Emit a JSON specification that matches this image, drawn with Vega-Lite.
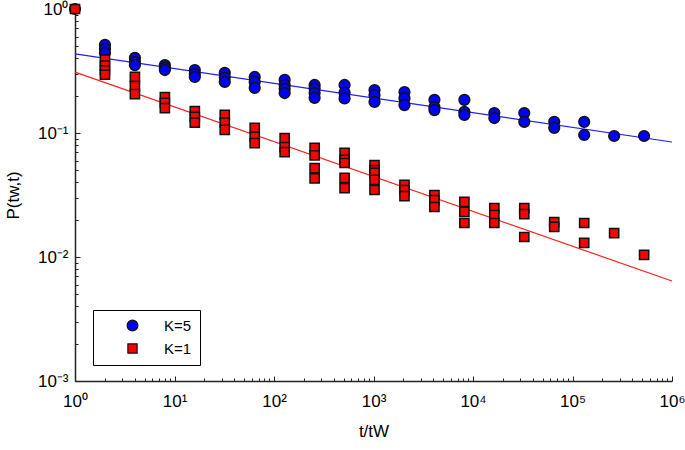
{
  "$schema": "https://vega.github.io/schema/vega-lite/v6.json",
  "width": 597,
  "height": 372,
  "autosize": {"type": "none"},
  "padding": {"left": 75, "top": 9, "right": 13, "bottom": 69},
  "background": "white",
  "view": {"stroke": null},
  "config": {"font": "Liberation Sans"},
  "datasets": {
    "pts": [
      {"x": 1, "y": 1.0, "K": "K=5"},
      {"x": 2, "y": 0.513, "K": "K=5"}, {"x": 2, "y": 0.476, "K": "K=5"}, {"x": 2, "y": 0.442, "K": "K=5"},
      {"x": 4, "y": 0.403, "K": "K=5"}, {"x": 4, "y": 0.374, "K": "K=5"}, {"x": 4, "y": 0.353, "K": "K=5"},
      {"x": 8, "y": 0.353, "K": "K=5"}, {"x": 8, "y": 0.335, "K": "K=5"}, {"x": 8, "y": 0.322, "K": "K=5"},
      {"x": 16, "y": 0.322, "K": "K=5"}, {"x": 16, "y": 0.299, "K": "K=5"}, {"x": 16, "y": 0.283, "K": "K=5"},
      {"x": 32, "y": 0.305, "K": "K=5"}, {"x": 32, "y": 0.28, "K": "K=5"}, {"x": 32, "y": 0.258, "K": "K=5"},
      {"x": 64, "y": 0.283, "K": "K=5"}, {"x": 64, "y": 0.258, "K": "K=5"}, {"x": 64, "y": 0.231, "K": "K=5"},
      {"x": 128, "y": 0.268, "K": "K=5"}, {"x": 128, "y": 0.244, "K": "K=5"}, {"x": 128, "y": 0.227, "K": "K=5"}, {"x": 128, "y": 0.21, "K": "K=5"},
      {"x": 256, "y": 0.244, "K": "K=5"}, {"x": 256, "y": 0.228, "K": "K=5"}, {"x": 256, "y": 0.21, "K": "K=5"}, {"x": 256, "y": 0.192, "K": "K=5"},
      {"x": 512, "y": 0.244, "K": "K=5"}, {"x": 512, "y": 0.212, "K": "K=5"}, {"x": 512, "y": 0.19, "K": "K=5"},
      {"x": 1024, "y": 0.222, "K": "K=5"}, {"x": 1024, "y": 0.202, "K": "K=5"}, {"x": 1024, "y": 0.178, "K": "K=5"},
      {"x": 2048, "y": 0.214, "K": "K=5"}, {"x": 2048, "y": 0.191, "K": "K=5"}, {"x": 2048, "y": 0.168, "K": "K=5"},
      {"x": 4096, "y": 0.185, "K": "K=5"}, {"x": 4096, "y": 0.162, "K": "K=5"}, {"x": 4096, "y": 0.153, "K": "K=5"},
      {"x": 8192, "y": 0.185, "K": "K=5"}, {"x": 8192, "y": 0.148, "K": "K=5"}, {"x": 8192, "y": 0.14, "K": "K=5"},
      {"x": 16384, "y": 0.145, "K": "K=5"}, {"x": 16384, "y": 0.132, "K": "K=5"},
      {"x": 32768, "y": 0.145, "K": "K=5"}, {"x": 32768, "y": 0.123, "K": "K=5"},
      {"x": 65536, "y": 0.123, "K": "K=5"}, {"x": 65536, "y": 0.11, "K": "K=5"},
      {"x": 131072, "y": 0.123, "K": "K=5"}, {"x": 131072, "y": 0.0964, "K": "K=5"},
      {"x": 262144, "y": 0.0946, "K": "K=5"},
      {"x": 524288, "y": 0.0946, "K": "K=5"},
      {"x": 1, "y": 1.0, "K": "K=1"},
      {"x": 2, "y": 0.39, "K": "K=1"}, {"x": 2, "y": 0.35, "K": "K=1"}, {"x": 2, "y": 0.32, "K": "K=1"}, {"x": 2, "y": 0.295, "K": "K=1"},
      {"x": 4, "y": 0.283, "K": "K=1"}, {"x": 4, "y": 0.239, "K": "K=1"}, {"x": 4, "y": 0.206, "K": "K=1"},
      {"x": 8, "y": 0.195, "K": "K=1"}, {"x": 8, "y": 0.175, "K": "K=1"}, {"x": 8, "y": 0.159, "K": "K=1"},
      {"x": 16, "y": 0.15, "K": "K=1"}, {"x": 16, "y": 0.135, "K": "K=1"}, {"x": 16, "y": 0.121, "K": "K=1"},
      {"x": 32, "y": 0.14, "K": "K=1"}, {"x": 32, "y": 0.121, "K": "K=1"}, {"x": 32, "y": 0.106, "K": "K=1"},
      {"x": 64, "y": 0.11, "K": "K=1"}, {"x": 64, "y": 0.093, "K": "K=1"}, {"x": 64, "y": 0.083, "K": "K=1"},
      {"x": 128, "y": 0.091, "K": "K=1"}, {"x": 128, "y": 0.077, "K": "K=1"}, {"x": 128, "y": 0.07, "K": "K=1"},
      {"x": 256, "y": 0.076, "K": "K=1"}, {"x": 256, "y": 0.066, "K": "K=1"}, {"x": 256, "y": 0.052, "K": "K=1"}, {"x": 256, "y": 0.043, "K": "K=1"},
      {"x": 512, "y": 0.069, "K": "K=1"}, {"x": 512, "y": 0.0606, "K": "K=1"}, {"x": 512, "y": 0.0573, "K": "K=1"}, {"x": 512, "y": 0.0434, "K": "K=1"}, {"x": 512, "y": 0.036, "K": "K=1"},
      {"x": 1024, "y": 0.0552, "K": "K=1"}, {"x": 1024, "y": 0.0503, "K": "K=1"}, {"x": 1024, "y": 0.0476, "K": "K=1"}, {"x": 1024, "y": 0.0418, "K": "K=1"}, {"x": 1024, "y": 0.0347, "K": "K=1"},
      {"x": 2048, "y": 0.0381, "K": "K=1"}, {"x": 2048, "y": 0.0347, "K": "K=1"}, {"x": 2048, "y": 0.031, "K": "K=1"},
      {"x": 4096, "y": 0.0316, "K": "K=1"}, {"x": 4096, "y": 0.0288, "K": "K=1"}, {"x": 4096, "y": 0.0253, "K": "K=1"},
      {"x": 8192, "y": 0.0278, "K": "K=1"}, {"x": 8192, "y": 0.0231, "K": "K=1"}, {"x": 8192, "y": 0.0188, "K": "K=1"},
      {"x": 16384, "y": 0.0248, "K": "K=1"}, {"x": 16384, "y": 0.0218, "K": "K=1"}, {"x": 16384, "y": 0.0188, "K": "K=1"},
      {"x": 32768, "y": 0.0248, "K": "K=1"}, {"x": 32768, "y": 0.0222, "K": "K=1"}, {"x": 32768, "y": 0.0145, "K": "K=1"},
      {"x": 65536, "y": 0.0191, "K": "K=1"}, {"x": 65536, "y": 0.0175, "K": "K=1"},
      {"x": 131072, "y": 0.0188, "K": "K=1"}, {"x": 131072, "y": 0.013, "K": "K=1"},
      {"x": 262144, "y": 0.0156, "K": "K=1"},
      {"x": 524288, "y": 0.0104, "K": "K=1"}
    ],
    "fit5": [{"x": 1, "y": 0.434}, {"x": 1000000, "y": 0.0846}],
    "fit1": [{"x": 1, "y": 0.31}, {"x": 1000000, "y": 0.0064}]
  },
  "encoding": {
    "x": {
      "field": "x", "type": "quantitative",
      "scale": {"type": "log", "domain": [1, 1000000], "nice": false},
      "axis": {
        "title": "t/tW",
        "titleFontSize": 17, "titleFontWeight": "normal", "titleColor": "black", "titlePadding": 12,
        "values": [1,2,3,4,5,6,7,8,9,10,20,30,40,50,60,70,80,90,100,200,300,400,500,600,700,800,900,1000,2000,3000,4000,5000,6000,7000,8000,9000,10000,20000,30000,40000,50000,60000,70000,80000,90000,100000,200000,300000,400000,500000,600000,700000,800000,900000,1000000],
        "labelExpr": "abs(log(datum.value)/LN10 - round(log(datum.value)/LN10)) < 0.000001 ? '10' + ['⁰','¹','²','³','⁴','⁵','⁶'][round(log(datum.value)/LN10)] : ''",
        "labelFontSize": 17, "labelColor": "black", "labelPadding": 17, "labelOverlap": false, "labelFlush": false,
        "grid": false,
        "domainColor": "#222", "domainWidth": 1.5,
        "tickColor": "#222", "tickWidth": 1,
        "tickSize": {"condition": {"test": "abs(log(datum.value)/LN10 - round(log(datum.value)/LN10)) < 0.000001", "value": -5}, "value": -3}
      }
    },
    "y": {
      "field": "y", "type": "quantitative",
      "scale": {"type": "log", "domain": [0.001, 1], "nice": false},
      "axis": {
        "title": "P(tw,t)",
        "titleFontSize": 17, "titleFontWeight": "normal", "titleColor": "black", "titlePadding": 15,
        "values": [0.001,0.002,0.003,0.004,0.005,0.006,0.007,0.008,0.009,0.01,0.02,0.03,0.04,0.05,0.06,0.07,0.08,0.09,0.1,0.2,0.3,0.4,0.5,0.6,0.7,0.8,0.9,1],
        "labelExpr": "abs(log(datum.value)/LN10 - round(log(datum.value)/LN10)) < 0.000001 ? '10' + ['⁰','⁻¹','⁻²','⁻³'][-round(log(datum.value)/LN10)] : ''",
        "labelFontSize": 17, "labelColor": "black", "labelPadding": 12, "labelOverlap": false, "labelFlush": false,
        "grid": false,
        "domainColor": "#222", "domainWidth": 1.5,
        "tickColor": "#222", "tickWidth": 1,
        "tickSize": {"condition": {"test": "abs(log(datum.value)/LN10 - round(log(datum.value)/LN10)) < 0.000001", "value": -5}, "value": -3}
      }
    }
  },
  "layer": [
    {
      "data": {"name": "fit5"},
      "mark": {"type": "line", "color": "#1f1fff", "strokeWidth": 1.2},
      "encoding": {}
    },
    {
      "data": {"name": "fit1"},
      "mark": {"type": "line", "color": "#ff2020", "strokeWidth": 1.2},
      "encoding": {}
    },
    {
      "data": {"name": "pts"},
      "mark": {"type": "point", "filled": true, "opacity": 1, "stroke": "#111", "strokeWidth": 1.5},
      "encoding": {
        "color": {
          "field": "K", "type": "nominal",
          "scale": {"domain": ["K=5", "K=1"], "range": ["#0000ff", "#ff0000"]},
          "legend": {
            "title": null, "orient": "none", "legendX": 18, "legendY": 301,
            "strokeColor": "black", "padding": 8, "fillColor": "white",
            "symbolOffset": 24, "labelOffset": 24, "labelFontSize": 15, "labelColor": "black",
            "symbolStrokeColor": "#111", "symbolStrokeWidth": 1.2, "symbolSize": 110, "rowPadding": 7
          }
        },
        "shape": {
          "field": "K", "type": "nominal",
          "scale": {"domain": ["K=5", "K=1"], "range": ["circle", "square"]}
        },
        "size": {
          "field": "K", "type": "nominal",
          "scale": {"domain": ["K=5", "K=1"], "range": [115, 85]},
          "legend": null
        }
      }
    }
  ]
}
